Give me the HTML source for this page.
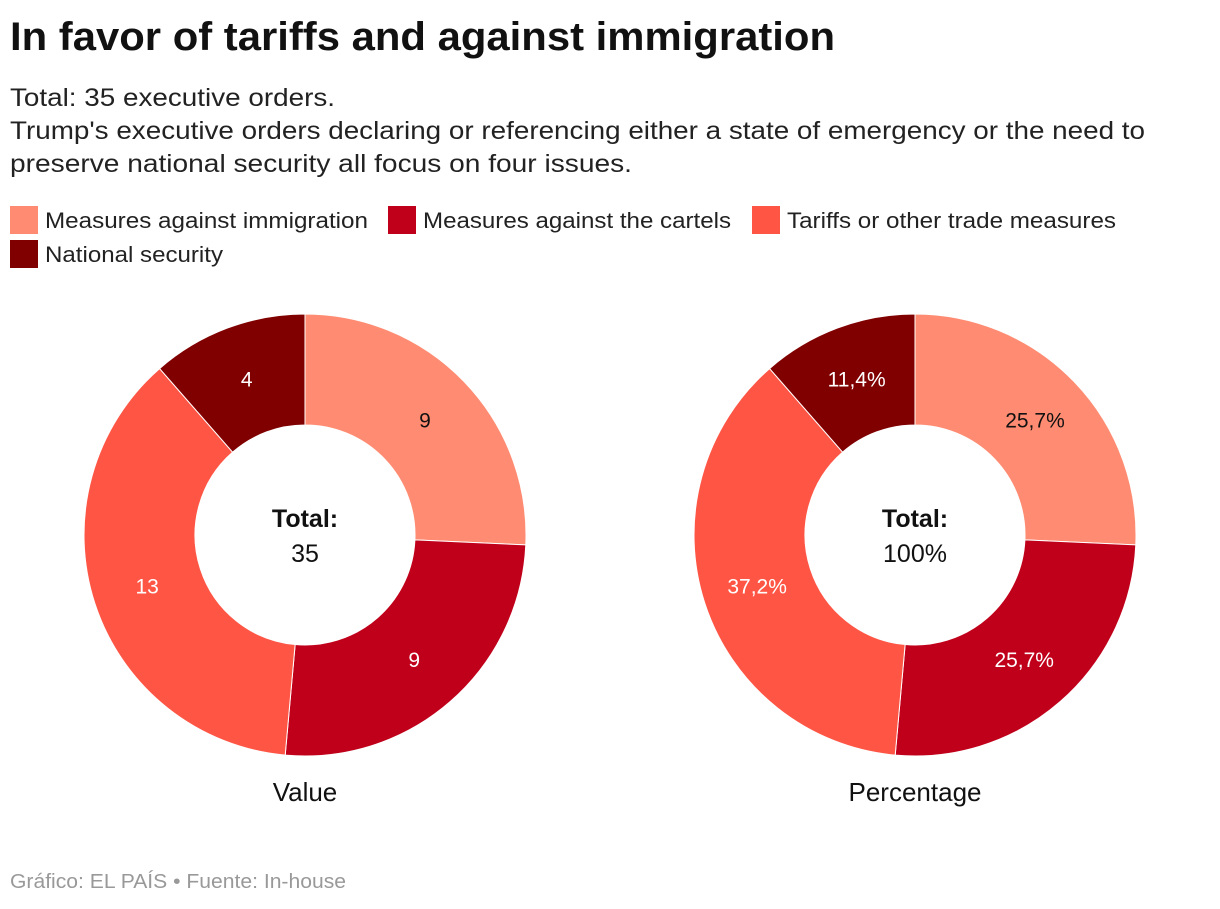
<!DOCTYPE html>
<html><head><meta charset="utf-8">
<style>
body{margin:0;width:1220px;height:904px;background:#fff;font-family:"Liberation Sans",Arial,sans-serif;overflow:hidden}
</style></head>
<body>
<svg id="chart" width="1220" height="904" xmlns="http://www.w3.org/2000/svg" font-family="Liberation Sans, Arial, sans-serif">
<text x="10" y="50" font-size="40" font-weight="bold" fill="#111" textLength="825" lengthAdjust="spacingAndGlyphs">In favor of tariffs and against immigration</text>
<g font-size="25" fill="#222">
<text x="10" y="106" textLength="325" lengthAdjust="spacingAndGlyphs">Total: 35 executive orders.</text>
<text x="10" y="139" textLength="1135" lengthAdjust="spacingAndGlyphs">Trump's executive orders declaring or referencing either a state of emergency or the need to</text>
<text x="10" y="172" textLength="622" lengthAdjust="spacingAndGlyphs">preserve national security all focus on four issues.</text>
</g>
<g id="legend" font-size="22" fill="#222"></g>
<g id="donuts"></g>
<text x="10" y="888" font-size="20" fill="#999" textLength="336" lengthAdjust="spacingAndGlyphs">Gráfico: EL PAÍS • Fuente: In-house</text>
</svg>
<script>
const categories=["Measures against immigration","Measures against the cartels","Tariffs or other trade measures","National security"];
const values=[9,9,13,4];
const percentLabels=["25,7%","25,7%","37,2%","11,4%"];
const colors=["#ff8c72","#c0001a","#ff5545","#800000"];
const labelColors=["#111","#fff","#fff","#fff"];
const legendWidths=[323,308,329,178];
const NS="http://www.w3.org/2000/svg";
function mk(t,a,p){const e=document.createElementNS(NS,t);for(const k in a)e.setAttribute(k,a[k]);p.appendChild(e);return e;}
const leg=document.getElementById('legend');
const legPos=[[10,206],[388,206],[752,206],[10,240]];
categories.forEach((c,i)=>{
  const g=mk('g',{},leg);
  
  
  mk('rect',{x:legPos[i][0],y:legPos[i][1],width:28,height:28,fill:colors[i]},g);
  const t=mk('text',{x:legPos[i][0]+35,y:legPos[i][1]+22,textLength:legendWidths[i],lengthAdjust:'spacingAndGlyphs'},g);t.textContent=c;
});
const total=values.reduce((a,b)=>a+b,0);
const rO=221,rI=110,rL=166;
function donut(cx,cy,labels,centerVal,title,name){
  const g=mk('g',{},document.getElementById('donuts'));
  
  
  let a0=0;
  values.forEach((v,i)=>{
    const a1=a0+v/total*2*Math.PI;
    const p=(a,r)=>[cx+r*Math.sin(a),cy-r*Math.cos(a)];
    const [x0,y0]=p(a0,rO),[x1,y1]=p(a1,rO),[x2,y2]=p(a1,rI),[x3,y3]=p(a0,rI);
    const lg=(a1-a0)>Math.PI?1:0;
    const s=mk('path',{d:`M${x0},${y0}A${rO},${rO} 0 ${lg} 1 ${x1},${y1}L${x2},${y2}A${rI},${rI} 0 ${lg} 0 ${x3},${y3}Z`,fill:colors[i],stroke:'#fff','stroke-width':1},g);
    
    
    const [lx,ly]=p((a0+a1)/2,rL);
    const t=mk('text',{x:lx,y:ly+7,'text-anchor':'middle','font-size':21,fill:labelColors[i]},g);
    
    
    t.textContent=labels[i];
    a0=a1;
  });
  const t1=mk('text',{x:cx,y:cy-8,'text-anchor':'middle','font-size':25,'font-weight':'bold',fill:'#111'},g);t1.textContent='Total:';
  
  
  const t2=mk('text',{x:cx,y:cy+27,'text-anchor':'middle','font-size':25,fill:'#111'},g);t2.textContent=centerVal;
  
  
  const t3=mk('text',{x:cx,y:801,'text-anchor':'middle','font-size':26,fill:'#111'},g);t3.textContent=title;
  
  
}
donut(305,535,values.map(String),String(total),'Value','value-donut');
donut(915,535,percentLabels,'100%','Percentage','percentage-donut');
</script>
</body></html>
